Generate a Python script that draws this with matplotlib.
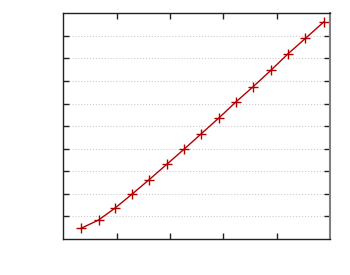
import numpy as np
import matplotlib as mpl
from matplotlib import pyplot as plt

mpl.rcParams['figure.dpi'] = 100

# values (axes run 0..5 and 0..10)
x_vals = [0.33, 0.66, 0.97, 1.29, 1.61, 1.94, 2.26, 2.59, 2.92, 3.23, 3.56, 3.89, 4.21, 4.54, 4.88]
y_vals = [0.47, 0.84, 1.37, 1.99, 2.63, 3.31, 3.97, 4.67, 5.37, 6.06, 6.75, 7.47, 8.20, 8.89, 9.61]
x_ticks = [1, 2, 3, 4]
y_ticks = [1, 2, 3, 4, 5, 6, 7, 8, 9]

fig = plt.figure(figsize=(3.5, 2.75))
ax = fig.add_axes([63.3/350, 36/275, (330-63.3)/350, (239-13.3)/275])

ax.plot(x_vals, y_vals, '-+', color='#b20000', linewidth=1.0,
        markersize=7, markeredgewidth=1.0)

ax.set_xlim(0, 5)
ax.set_ylim(0, 10)
ax.set_xticks(x_ticks)
ax.set_yticks(y_ticks)
ax.set_xticklabels([])
ax.set_yticklabels([])
ax.tick_params(direction='in', length=4, width=1, color='#222222',
               top=True, right=True)
ax.yaxis.grid(True, linestyle=':', color='#cccccc', linewidth=0.8)
ax.set_axisbelow(True)

for side in ['left', 'bottom', 'top']:
    ax.spines[side].set_color('#222222')
    ax.spines[side].set_linewidth(1.0)
ax.spines['right'].set_color('#808080')
ax.spines['right'].set_linewidth(1.5)

plt.savefig('out.png', dpi=100)
